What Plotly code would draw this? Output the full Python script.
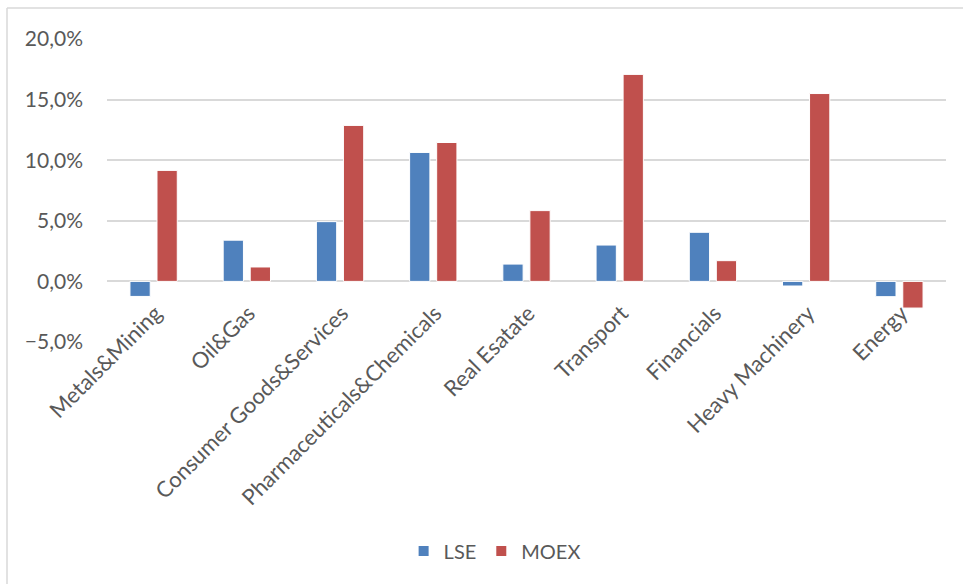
import plotly.graph_objects as go

categories = ["Metals&Mining", "Oil&Gas", "Consumer Goods&Services", "Pharmaceuticals&Chemicals",
              "Real Esatate", "Transport", "Financials", "Heavy Machinery", "Energy"]
lse = [-0.0124, 0.034, 0.0493, 0.1064, 0.0143, 0.030, 0.0405, -0.0038, -0.0126]
moex = [0.0916, 0.0119, 0.1287, 0.1146, 0.0584, 0.1708, 0.0171, 0.155, -0.022]
y_ticks = [-0.05, 0.0, 0.05, 0.10, 0.15, 0.20]

TXT = "#595959"
GRID = "#d9d9d9"
FONT = "Lato"

fig = go.Figure()
fig.add_trace(go.Bar(name="LSE", x=categories, y=lse, marker=dict(color="#4F81BD", line=dict(color="white", width=1))))
fig.add_trace(go.Bar(name="MOEX", x=categories, y=moex, marker=dict(color="#C0504D", line=dict(color="white", width=1))))

L, R, T, B = 107, 17, 39, 242
ph = 584 - T - B
zero_pos = (342 - 281.2) / ph

fig.update_layout(
    width=963, height=584,
    margin=dict(l=L, r=R, t=T, b=B),
    paper_bgcolor="white", plot_bgcolor="white",
    separators=",.",
    barmode="group", bargap=0.42, bargroupgap=0.25,
    font=dict(family=FONT, color=TXT, size=20),
    showlegend=True,
    legend=dict(orientation="h", x=0.462, xanchor="center", y=(342 - 551) / ph, yanchor="middle",
                font=dict(size=20, color=TXT), itemwidth=30, itemsizing="constant"),
    xaxis=dict(anchor="free", position=zero_pos, tickangle=-45, showline=False, showgrid=False,
               ticks="", tickfont=dict(size=22, color=TXT), ticklabelstandoff=14, ticklabelshift=2),
    yaxis=dict(range=[-0.05, 0.20], tickvals=y_ticks, tickformat=".1%", showgrid=True,
               gridcolor=GRID, gridwidth=1.5, zeroline=True, zerolinecolor=GRID, zerolinewidth=1.5,
               showline=False, ticks="", tickfont=dict(size=21, color=TXT), ticklabelstandoff=23),
)

pw = 963 - L - R
fig.add_shape(type="line", xref="paper", yref="paper", x0=(7 - L) / pw, x1=(7 - L) / pw,
              y0=(342 - 8) / ph, y1=(342 - 600) / ph, line=dict(color=GRID, width=1.5))
fig.add_shape(type="line", xref="paper", yref="paper", x0=(7 - L) / pw, x1=(970 - L) / pw,
              y0=(342 - 8) / ph, y1=(342 - 8) / ph, line=dict(color=GRID, width=1.5))

fig.write_html("out.html")
